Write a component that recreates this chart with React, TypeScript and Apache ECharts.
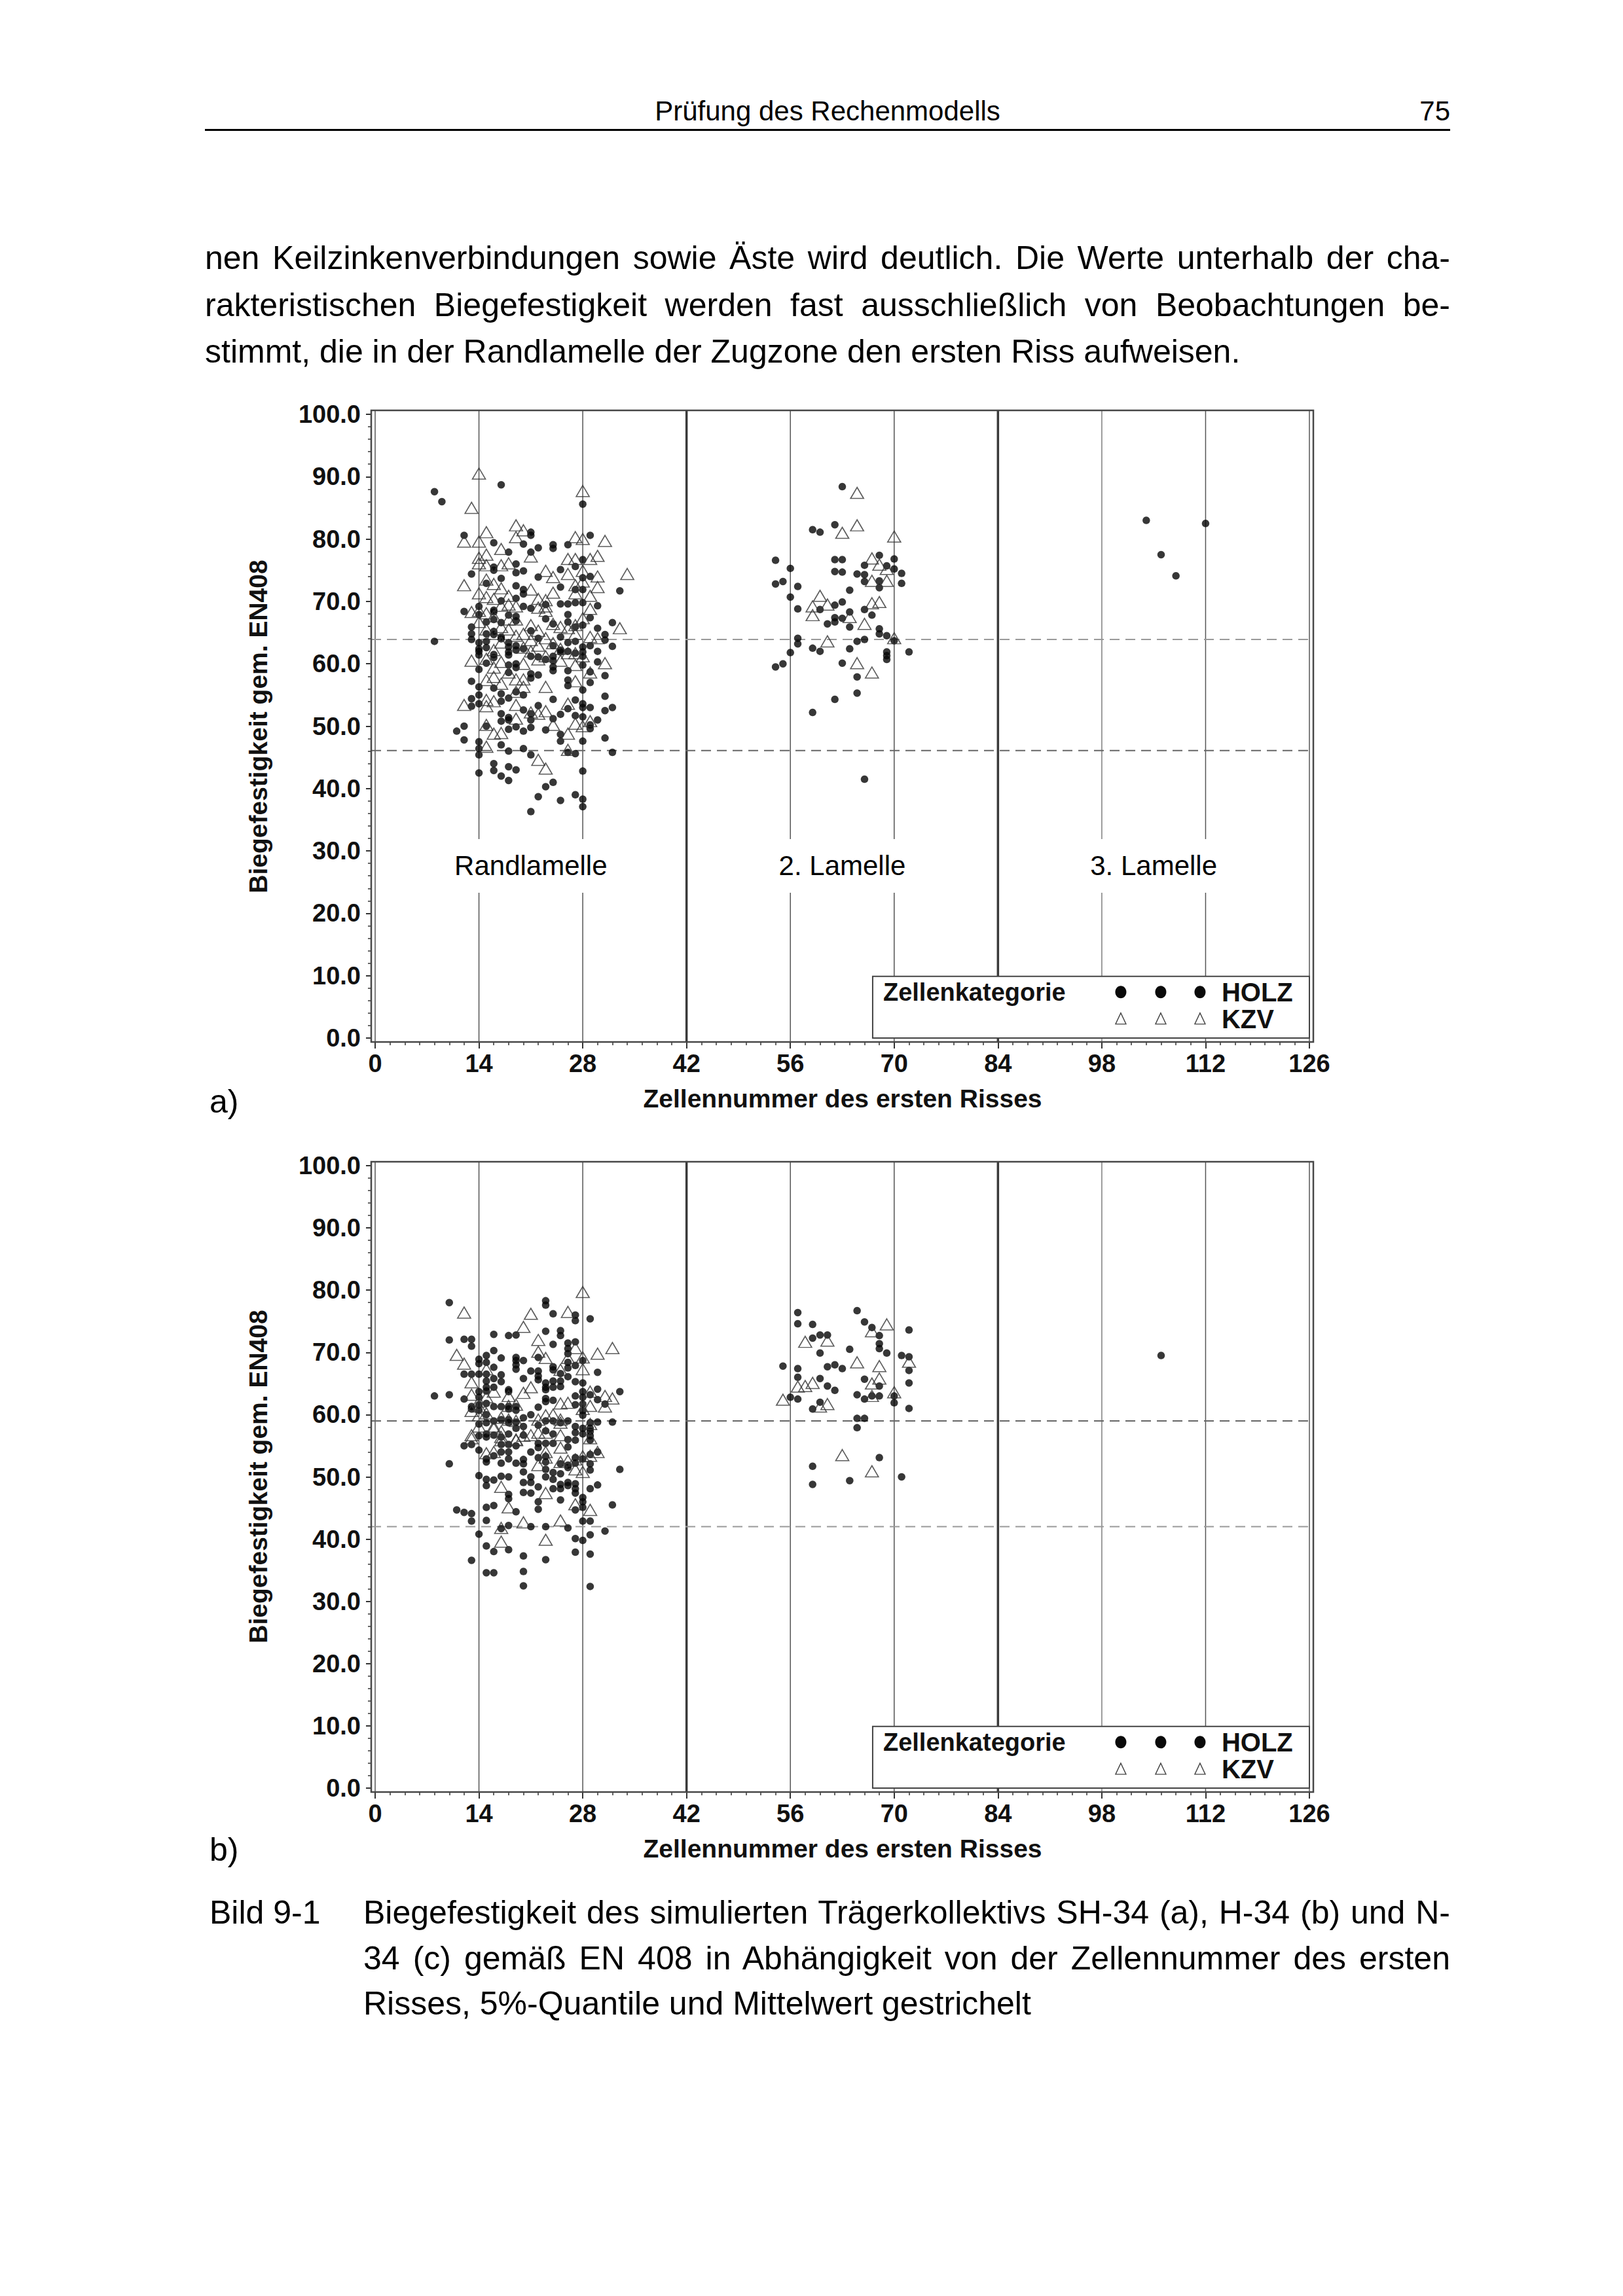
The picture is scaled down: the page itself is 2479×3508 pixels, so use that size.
import React, { useEffect, useRef } from 'react';
import * as echarts from 'echarts';

const W = 2479;
const H = 3508;
const FONT = '"Liberation Sans", Arial, Helvetica, sans-serif';

// ---------- axes / labels ----------
const X_TITLE = 'Zellennummer des ersten Risses';
const Y_TITLE = 'Biegefestigkeit gem. EN408';
const SECTION_LABELS = ['Randlamelle', '2. Lamelle', '3. Lamelle'];
const SECTION_CENTERS = [21, 63, 105];
const SECTION_LABEL_Y = 27.6;
const GRID_X = [0, 14, 28, 42, 56, 70, 84, 98, 112, 126];
const LEGEND_TITLE = 'Zellenkategorie';
const LEGEND_NAMES = ['HOLZ', 'KZV'];
const LEGEND_X0 = 67.1;
const LEGEND_Y1 = 9.9;

// dashed lines: mean and 5% quantile
const REF_A = [63.9, 46.1];
const REF_B = [59.0, 42.0];

// ---------- chart a) data ----------
const HOLZ_A1: number[][] = [
  [8, 87.6], [9, 86.0], [17, 88.7], [28, 85.6], [12, 80.6], [29, 80.6], [16, 79.4], [21, 81.1], [21, 80.6], [20, 79.2],
  [22, 78.6], [24, 79.1], [24, 78.5], [26, 79.1], [18, 77.9], [21, 77.9], [19, 76.0], [16, 75.5], [16, 75.0], [27, 75.6],
  [28, 76.7], [13, 74.4], [19, 74.6], [20, 74.9], [25, 75.1], [17, 73.7], [22, 73.9], [29, 74.0], [28, 73.8], [15, 72.9],
  [19, 72.5], [25, 72.3], [20, 71.9], [20, 71.2], [27, 71.9], [28, 71.9], [33, 71.7], [19, 70.5], [17, 70.1], [14, 69.2],
  [23, 69.5], [25, 69.6], [26, 69.6], [27, 69.8], [28, 69.8], [20, 69.2], [21, 68.9], [30, 69.3], [12, 68.4], [16, 68.6],
  [16, 68.3], [14, 67.9], [18, 67.8], [19, 67.6], [19, 66.9], [26, 67.9], [29, 67.4], [23, 67.2], [15, 66.7], [16, 67.1],
  [17, 66.6], [24, 66.4], [26, 66.7], [28, 66.2], [32, 66.6], [27, 65.9], [30, 65.7], [13, 65.9], [13, 64.8], [21, 65.3],
  [15, 64.8], [16, 65.2], [16, 64.7], [17, 64.3], [17, 64.0], [31, 64.7], [31, 63.8], [22, 64.1], [25, 64.3], [13, 63.9],
  [8, 63.6], [27, 63.6], [14, 63.4], [14, 62.4], [15, 63.6], [15, 62.6], [18, 63.4], [18, 62.7], [19, 62.9], [19, 62.2],
  [24, 62.9], [28, 62.7], [29, 62.9], [32, 62.8], [20, 62.4], [26, 63.4], [25, 62.2], [25, 61.9], [14, 62.0], [14, 61.4],
  [30, 62.0], [26, 62.0], [27, 61.7], [28, 61.9], [28, 61.2], [16, 61.5], [16, 61.0], [18, 61.9], [18, 61.4], [21, 61.2],
  [22, 61.1], [23, 60.7], [24, 61.2], [24, 60.5], [24, 59.5], [24, 58.9], [15, 60.1], [30, 60.3], [28, 59.8], [19, 60.0],
  [19, 59.4], [18, 59.8], [18, 58.6], [14, 59.1], [26, 58.9], [29, 58.7], [21, 58.4], [21, 57.7], [22, 58.2], [31, 58.1],
  [29, 57.0], [13, 57.2], [26, 57.4], [26, 56.5], [14, 56.3], [16, 56.1], [28, 55.8], [19, 55.5],
  [14, 55.0], [13, 54.4], [13, 53.2], [14, 53.6], [17, 55.2], [17, 54.0], [18, 54.5], [20, 55.0], [24, 54.3], [27, 54.2],
  [28, 53.6], [28, 53.0], [29, 53.0], [31, 54.8], [31, 52.5], [32, 53.0], [22, 53.3], [20, 52.6], [25, 51.9], [26, 52.8],
  [27, 51.7], [24, 51.2], [17, 52.0], [17, 50.8], [18, 51.4], [18, 51.0], [21, 52.0], [21, 51.0], [28, 51.5], [30, 51.0],
  [29, 50.2], [29, 49.6], [11, 49.2], [12, 50.0], [15, 50.0], [19, 49.9], [18, 49.5], [20, 49.2], [21, 49.8], [23, 49.4],
  [12, 47.8], [14, 47.5], [14, 46.4], [14, 45.4], [17, 47.0], [25, 48.7], [25, 47.6], [31, 48.1], [28, 47.6], [18, 46.0],
  [20, 46.4], [21, 45.4], [26, 45.8], [27, 45.6], [32, 45.8], [16, 44.0], [16, 42.9], [18, 43.5], [19, 43.0], [14, 42.5],
  [28, 42.8], [17, 42.0], [18, 41.3], [24, 41.0], [23, 40.3], [22, 38.7], [27, 39.0], [25, 38.1], [28, 38.3], [28, 37.1],
  [21, 36.3],
];
const KZV_A1: number[][] = [
  [14, 90.5], [28, 87.7], [13, 85.0], [19, 82.2], [20, 81.4], [15, 81.1], [12, 79.6], [14, 79.6], [27, 80.3], [28, 80.0],
  [31, 79.7], [19, 80.3], [17, 78.4], [21, 77.2], [14, 77.0], [15, 77.5], [26, 76.8], [27, 76.8], [29, 76.8], [30, 77.3],
  [18, 76.1], [14, 76.1], [17, 75.8], [15, 75.8], [23, 74.9], [24, 73.9], [26, 74.4], [28, 74.9], [34, 74.4], [30, 74.0],
  [12, 72.6], [16, 72.8], [15, 73.5], [17, 72.1], [21, 71.9], [27, 72.6], [28, 73.2], [30, 72.3], [14, 71.3], [24, 71.4],
  [27, 71.3], [15, 70.7], [18, 70.9], [29, 70.9], [22, 70.4], [23, 70.2], [16, 70.4], [18, 69.5], [17, 69.3], [19, 69.2],
  [23, 69.2], [29, 68.8], [13, 68.3], [14, 68.5], [15, 68.1], [22, 69.0], [23, 68.5], [16, 67.6], [19, 67.1], [18, 67.1],
  [14, 66.7], [28, 67.3], [21, 66.2], [24, 66.4], [25, 65.9], [26, 65.7], [27, 66.2], [33, 65.7], [17, 65.9], [18, 65.5],
  [15, 65.5], [16, 64.8], [22, 65.3], [20, 64.8], [27, 64.8], [29, 64.3], [30, 64.1], [19, 64.5], [23, 64.1], [21, 63.8],
  [17, 63.4], [24, 63.3], [22, 62.9], [20, 62.6], [25, 62.4], [21, 62.0], [16, 62.2], [26, 61.7], [27, 61.7], [28, 61.2],
  [23, 61.2], [15, 60.8], [13, 60.5], [22, 60.7], [25, 60.5], [17, 60.3], [20, 60.0], [31, 60.1], [27, 59.8], [16, 59.4],
  [29, 58.6], [18, 58.6], [16, 57.9], [20, 57.5], [19, 57.5], [15, 57.4], [27, 57.2], [17, 56.8], [20, 56.3], [23, 56.3],
  [19, 55.5], [15, 54.2], [15, 53.2], [16, 54.0], [12, 53.4], [19, 53.4], [26, 53.6], [21, 52.2], [22, 52.0], [23, 52.4],
  [19, 51.2], [27, 50.4], [28, 50.0], [29, 50.8], [24, 50.2], [15, 50.2], [16, 48.8], [17, 48.9], [26, 48.8], [15, 46.7],
  [26, 46.2], [22, 44.6], [23, 43.2],
];
const HOLZ_A2: number[][] = [
  [63, 88.4], [59, 81.5], [60, 81.1], [62, 82.3], [54, 76.6], [56, 75.3], [62, 76.7], [63, 76.7], [68, 77.4], [70, 76.8],
  [66, 75.8], [69, 75.7], [62, 74.8], [63, 74.7], [70, 75.2], [71, 74.5], [65, 74.4], [66, 74.3], [54, 72.8], [55, 73.2],
  [66, 73.2], [68, 73.3], [68, 72.2], [71, 72.9], [57, 72.4], [64, 71.8], [56, 70.7], [63, 69.9], [62, 69.4], [57, 68.8],
  [60, 68.7], [66, 68.7], [64, 68.3], [67, 67.8], [62, 67.4], [62, 66.7], [63, 67.3], [61, 66.4], [64, 65.9], [68, 65.6],
  [68, 64.8], [69, 64.5], [70, 63.7], [57, 64.1], [57, 63.2], [66, 63.9], [65, 63.6], [72, 61.9], [59, 62.5], [60, 62.0],
  [56, 61.8], [64, 62.4], [69, 61.9], [69, 61.3], [69, 60.7], [54, 59.5], [55, 60.0], [63, 60.1], [65, 57.9], [65, 55.3],
  [62, 54.3], [59, 52.2], [66, 41.5],
];
const KZV_A2: number[][] = [
  [65, 87.4], [65, 82.2], [63, 81.0], [70, 80.4], [67, 76.9], [68, 75.9], [69, 75.2], [67, 73.3], [69, 73.3], [60, 70.9],
  [59, 69.2], [61, 69.5], [67, 69.7], [68, 69.9], [59, 67.8], [64, 67.5], [66, 66.4], [61, 63.6], [70, 64.1], [65, 60.1],
  [67, 58.6],
];
const HOLZ_A3: number[][] = [[104, 83.0], [112, 82.5], [106, 77.5], [108, 74.1]];

// ---------- chart b) data ----------
// cell number -> strengths of HOLZ observations in that cell
const HOLZ_B1_COLUMNS: [number, number[]][] = [
  [8, [63.0]],
  [10, [78.0, 72.0, 63.2, 52.1]],
  [11, [44.7]],
  [12, [72.1, 66.5, 62.5, 55.0, 44.3]],
  [13, [72.1, 71.0, 66.5, 61.3, 60.9, 55.2, 44.1, 42.9, 36.6]],
  [14, [68.9, 68.2, 66.5, 63.7, 62.8, 61.6, 60.7, 58.5, 56.6, 54.3, 50.2, 40.8]],
  [15, [69.5, 68.4, 66.5, 65.4, 64.4, 63.8, 61.8, 60.0, 58.7, 56.9, 56.4, 52.9, 52.4, 49.6, 48.6, 45.1, 43.0, 38.9, 34.6]],
  [16, [72.9, 70.3, 67.6, 65.8, 64.4, 61.3, 59.0, 56.7, 53.4, 49.5, 45.4, 38.0, 34.6]],
  [17, [69.1, 66.4, 65.3, 61.3, 59.2, 56.4, 55.2, 54.0, 52.2, 50.1, 41.7]],
  [18, [72.7, 64.0, 63.7, 61.3, 60.9, 59.2, 58.7, 56.9, 55.2, 54.0, 52.9, 50.0, 47.2, 46.5, 42.2, 38.3]],
  [19, [72.8, 69.2, 68.7, 68.0, 67.3, 61.3, 60.7, 58.8, 57.8, 55.0, 52.2, 44.4]],
  [20, [68.7, 65.8, 59.5, 58.1, 56.7, 52.8, 52.1, 50.8, 49.1, 47.5, 37.3, 34.8, 32.5]],
  [21, [67.0, 60.0, 54.0, 50.0, 49.1, 47.4, 42.0]],
  [22, [69.2, 67.0, 66.2, 65.6, 61.2, 58.3, 55.4, 54.7, 53.1, 48.4, 46.0, 44.8]],
  [23, [78.3, 77.6, 73.4, 65.1, 64.4, 64.0, 62.6, 62.1, 59.0, 57.4, 55.4, 53.3, 52.4, 51.2, 50.0, 42.0, 36.7]],
  [24, [76.2, 71.3, 67.7, 67.2, 65.4, 64.4, 62.3, 59.0, 56.9, 55.4, 50.7, 49.6, 48.1]],
  [25, [73.5, 72.7, 66.6, 65.4, 64.5, 58.7, 52.1, 50.5, 48.8, 48.1, 46.3]],
  [26, [71.5, 70.6, 69.8, 68.4, 67.5, 66.1, 59.0, 56.0, 54.8, 51.9, 51.5, 49.1, 48.6, 41.8]],
  [27, [76.0, 75.1, 71.7, 67.9, 65.3, 63.0, 61.6, 58.1, 57.1, 55.9, 53.1, 52.2, 48.9, 48.1, 47.4, 44.7, 40.1, 37.9]],
  [28, [68.7, 65.1, 63.7, 62.8, 61.7, 60.6, 59.9, 57.8, 56.9, 52.9, 46.7, 46.0, 45.1, 42.9, 39.8]],
  [29, [75.4, 63.2, 58.7, 57.8, 57.3, 56.6, 55.9, 53.6, 52.1, 51.1, 48.1, 42.9, 40.7, 37.6, 32.4]],
  [30, [66.8, 64.1, 62.4, 58.8, 54.0, 48.7]],
  [31, [61.7, 41.3]],
  [32, [58.8, 45.5]],
  [33, [63.7, 51.2]],
];
const KZV_B1: number[][] = [
  [12, 76.4], [11, 69.6], [12, 68.2], [13, 65.2], [13, 63.2], [15, 67.3], [14, 62.1], [14, 61.3], [15, 62.8], [13, 60.6],
  [14, 59.9], [15, 60.2], [13, 56.7], [13, 56.2], [14, 58.1], [16, 58.1], [17, 59.5], [17, 57.3], [16, 63.7], [18, 63.0],
  [19, 61.6], [18, 59.2], [19, 59.0], [19, 56.0], [20, 74.1], [21, 76.2], [20, 63.5], [21, 64.4], [22, 72.0], [22, 70.1],
  [23, 69.1], [25, 67.2], [26, 76.5], [26, 69.1], [27, 70.7], [28, 79.7], [28, 69.2], [28, 67.3], [30, 69.8], [32, 70.7],
  [29, 63.7], [31, 63.0], [31, 61.3], [32, 62.6], [29, 61.4], [26, 61.9], [25, 61.8], [24, 60.0], [23, 59.9], [22, 59.2],
  [28, 60.9], [25, 59.2], [25, 58.7], [23, 57.1], [22, 57.1], [25, 56.7], [29, 58.5], [29, 56.2], [21, 56.7], [16, 57.8],
  [17, 56.4], [20, 56.6], [18, 61.4], [15, 53.8], [16, 54.0], [17, 55.9], [19, 55.9], [23, 54.0], [25, 54.7], [25, 52.4],
  [26, 52.6], [27, 52.8], [28, 53.3], [29, 53.4], [30, 54.0], [22, 51.9], [23, 53.1], [27, 51.2], [28, 50.8], [17, 48.4],
  [23, 47.4], [18, 45.1], [27, 45.6], [29, 44.7], [25, 43.0], [20, 42.7], [17, 41.8], [17, 39.6], [23, 39.9],
];
const HOLZ_B2: number[][] = [
  [55, 67.8], [56, 62.8], [57, 76.4], [57, 74.6], [57, 67.4], [57, 66.0], [57, 62.5], [59, 74.5], [59, 72.3], [59, 60.9],
  [59, 51.7], [59, 48.8], [60, 72.8], [60, 69.9], [60, 65.8], [60, 62.0], [61, 72.8], [61, 67.7], [61, 64.6], [62, 68.0],
  [62, 63.9], [63, 67.4], [64, 70.5], [64, 49.4], [65, 76.7], [65, 63.2], [65, 59.4], [65, 57.9], [66, 74.9], [66, 65.7],
  [66, 62.5], [66, 59.4], [67, 74.0], [67, 63.0], [68, 72.7], [68, 71.4], [68, 70.6], [68, 64.6], [68, 63.0], [68, 53.1],
  [69, 69.9], [70, 63.0], [70, 61.9], [71, 69.5], [71, 50.0], [72, 73.6], [72, 69.3], [72, 67.1], [72, 65.1], [72, 61.0],
];
const KZV_B2: number[][] = [
  [55, 62.4], [57, 64.5], [58, 64.6], [58, 71.7], [59, 65.1], [60, 61.3], [61, 71.9], [61, 61.7], [63, 53.5], [65, 68.4],
  [67, 73.4], [67, 65.0], [67, 63.0], [67, 50.9], [68, 67.8], [68, 65.8], [69, 74.5], [70, 63.6], [72, 68.5],
];
const HOLZ_B3: number[][] = [[106, 69.5]];

const HOLZ_B1: number[][] = HOLZ_B1_COLUMNS.flatMap(([x, ys]) => ys.map((y) => [x, y]));

const PANELS = [
  { holz: [...HOLZ_A1, ...HOLZ_A2, ...HOLZ_A3], kzv: [...KZV_A1, ...KZV_A2], refs: REF_A, labels: true },
  { holz: [...HOLZ_B1, ...HOLZ_B2, ...HOLZ_B3], kzv: [...KZV_B1, ...KZV_B2], refs: REF_B, labels: false },
];

// ---------- layout ----------
const GRIDS = [
  { left: 573, top: 633, width: 1427, height: 953 },
  { left: 573, top: 1781, width: 1427, height: 951 },
];
const FRAME_PAD = 6;

function buildOption() {
  const series: any[] = [];
  PANELS.forEach((p, gi) => {
    // frame
    series.push({
      type: 'custom', xAxisIndex: gi, yAxisIndex: gi, z: 8, silent: true,
      data: [[0, 0]],
      renderItem: (_params: any, api: any) => {
        const a = api.coord([0, 0]);
        const b = api.coord([126, 100]);
        return {
          type: 'rect',
          shape: { x: a[0] - FRAME_PAD, y: b[1] - FRAME_PAD, width: b[0] - a[0] + 2 * FRAME_PAD, height: a[1] - b[1] + 2 * FRAME_PAD },
          style: { fill: 'none', stroke: '#474747', lineWidth: 2.5 },
        };
      },
    });
    // vertical grid lines
    series.push({
      type: 'custom', xAxisIndex: gi, yAxisIndex: gi, z: 1, silent: true,
      data: GRID_X.map((x) => [x, 0]),
      renderItem: (_params: any, api: any) => {
        const x = api.value(0);
        const a = api.coord([x, 0]);
        const b = api.coord([x, 100]);
        const heavy = x === 42 || x === 84;
        const light = x === 98;
        return {
          type: 'line',
          shape: { x1: a[0], y1: a[1] + FRAME_PAD, x2: a[0], y2: b[1] - FRAME_PAD },
          style: { stroke: heavy ? '#3a3a3a' : light ? '#9a9a9a' : '#555', lineWidth: heavy ? 3.5 : light ? 2 : 1.5 },
        };
      },
    });
    // dashed reference lines
    series.push({
      type: 'custom', xAxisIndex: gi, yAxisIndex: gi, z: 1, silent: true,
      data: p.refs.map((y) => [0, y]),
      renderItem: (params: any, api: any) => {
        const y = api.value(1);
        const a = api.coord([0, y]);
        const b = api.coord([126, y]);
        const dark = gi === 0 ? params.dataIndex === 1 : params.dataIndex === 0;
        return {
          type: 'line',
          shape: { x1: a[0] - FRAME_PAD, y1: a[1], x2: b[0] + FRAME_PAD, y2: b[1] },
          style: { stroke: dark ? '#666' : '#9a9a9a', lineWidth: 2, lineDash: [15, 9] },
        };
      },
    });
    series.push({
      name: 'HOLZ', type: 'scatter', xAxisIndex: gi, yAxisIndex: gi, z: 3,
      symbol: 'circle', symbolSize: 11.5, data: p.holz,
      itemStyle: { color: '#050505' },
    });
    series.push({
      name: 'KZV', type: 'scatter', xAxisIndex: gi, yAxisIndex: gi, z: 4,
      symbol: 'triangle', symbolSize: [20, 17], data: p.kzv,
      itemStyle: { color: 'rgba(255,255,255,0)', borderColor: '#333', borderWidth: 1.6 },
    });
    if (p.labels) {
      series.push({
        type: 'custom', xAxisIndex: gi, yAxisIndex: gi, z: 5, silent: true,
        data: SECTION_CENTERS.map((c) => [c, SECTION_LABEL_Y]),
        renderItem: (params: any, api: any) => {
          const pt = api.coord([api.value(0), api.value(1)]);
          const w = params.dataIndex === 0 ? 270 : 230;
          return {
            type: 'group',
            children: [
              { type: 'rect', shape: { x: pt[0] - w / 2, y: pt[1] - 41, width: w, height: 82 }, style: { fill: '#fff' } },
              {
                type: 'text',
                style: {
                  text: SECTION_LABELS[params.dataIndex], x: pt[0], y: pt[1],
                  textAlign: 'center', textVerticalAlign: 'middle',
                  font: `42px ${FONT}`, fill: '#000',
                },
              },
            ],
          };
        },
      });
    }
    // legend box
    series.push({
      type: 'custom', xAxisIndex: gi, yAxisIndex: gi, z: 6, silent: true,
      data: [[LEGEND_X0, LEGEND_Y1]],
      renderItem: (_params: any, api: any) => {
        const tl = api.coord([LEGEND_X0, LEGEND_Y1]);
        const br = api.coord([126, 0]);
        const L = tl[0];
        const T = tl[1];
        const y1 = T + 24;
        const y2 = T + 65;
        const sx = [L + 379, L + 440, L + 500];
        const children: any[] = [
          { type: 'rect', shape: { x: L, y: T, width: br[0] - L, height: br[1] - T }, style: { fill: '#fff', stroke: '#444', lineWidth: 2 } },
          { type: 'text', style: { text: LEGEND_TITLE, x: L + 16, y: y1, textAlign: 'left', textVerticalAlign: 'middle', font: `bold 38px ${FONT}`, fill: '#111' } },
          { type: 'text', style: { text: LEGEND_NAMES[0], x: L + 533, y: y1, textAlign: 'left', textVerticalAlign: 'middle', font: `bold 40px ${FONT}`, fill: '#111' } },
          { type: 'text', style: { text: LEGEND_NAMES[1], x: L + 533, y: y2, textAlign: 'left', textVerticalAlign: 'middle', font: `bold 40px ${FONT}`, fill: '#111' } },
        ];
        sx.forEach((x) => {
          children.push({ type: 'ellipse', shape: { cx: x, cy: y1, rx: 8.5, ry: 9.5 }, style: { fill: '#0a0a0a' } });
          children.push({ type: 'polygon', shape: { points: [[x, y2 - 9], [x - 8, y2 + 8], [x + 8, y2 + 8]] }, style: { fill: 'none', stroke: '#444', lineWidth: 1.4 } });
        });
        return { type: 'group', children };
      },
    });
  });

  const axisLabelStyle = { fontSize: 38, fontWeight: 'bold', fontFamily: FONT, color: '#111' };

  return {
    animation: false,
    backgroundColor: 'transparent',
    grid: GRIDS,
    xAxis: GRIDS.map((_, i) => ({
      gridIndex: i, type: 'value', min: 0, max: 126, interval: 14, offset: FRAME_PAD,
      axisLine: { show: true, onZero: false, lineStyle: { color: '#333', width: 2 } },
      axisTick: { show: true, length: 10, lineStyle: { color: '#333', width: 2 } },
      minorTick: { show: true, splitNumber: 7, length: 5, lineStyle: { color: '#333', width: 1.5 } },
      axisLabel: { ...axisLabelStyle, margin: 14 },
      splitLine: { show: false },
    })),
    yAxis: GRIDS.map((_, i) => ({
      gridIndex: i, type: 'value', min: 0, max: 100, interval: 10, offset: FRAME_PAD,
      axisLine: { show: true, onZero: false, lineStyle: { color: '#333', width: 2 } },
      axisTick: { show: true, length: 8, lineStyle: { color: '#333', width: 2 } },
      minorTick: { show: true, splitNumber: 5, length: 5, lineStyle: { color: '#333', width: 1.5 } },
      axisLabel: { ...axisLabelStyle, margin: 16, formatter: (v: number) => v.toFixed(1) },
      splitLine: { show: false },
    })),
    graphic: [
      { type: 'text', x: 394, y: 1110, rotation: Math.PI / 2, z: 10, style: { text: Y_TITLE, font: `bold 39px ${FONT}`, textAlign: 'center', textVerticalAlign: 'middle', fill: '#111' } },
      { type: 'text', x: 394, y: 2256, rotation: Math.PI / 2, z: 10, style: { text: Y_TITLE, font: `bold 39px ${FONT}`, textAlign: 'center', textVerticalAlign: 'middle', fill: '#111' } },
      { type: 'text', x: 1287, y: 1678, z: 10, style: { text: X_TITLE, font: `bold 39px ${FONT}`, textAlign: 'center', textVerticalAlign: 'middle', fill: '#111' } },
      { type: 'text', x: 1287, y: 2824, z: 10, style: { text: X_TITLE, font: `bold 39px ${FONT}`, textAlign: 'center', textVerticalAlign: 'middle', fill: '#111' } },
    ],
    series,
  };
}

// ---------- page text ----------
const HEADER = 'Prüfung des Rechenmodells';
const PAGE_NO = '75';
const PARAGRAPH = [
  'nen Keilzinkenverbindungen sowie Äste wird deutlich. Die Werte unterhalb der cha-',
  'rakteristischen Biegefestigkeit werden fast ausschließlich von Beobachtungen be-',
  'stimmt, die in der Randlamelle der Zugzone den ersten Riss aufweisen.',
];
const CAPTION_LABEL = 'Bild 9-1';
const CAPTION = [
  'Biegefestigkeit des simulierten Trägerkollektivs SH-34 (a), H-34 (b) und N-',
  '34 (c) gemäß EN 408 in Abhängigkeit von der Zellennummer des ersten',
  'Risses, 5%-Quantile und Mittelwert gestrichelt',
];

function TextLine(props: { text: string; cy: number; left: number; width?: number; size: number; align?: string; justify?: boolean }) {
  const h = Math.round(props.size * 1.2);
  const style: any = {
    position: 'absolute', left: props.left, top: props.cy - h / 2, height: h, lineHeight: h + 'px',
    fontSize: props.size, fontFamily: FONT, color: '#000', whiteSpace: 'nowrap',
  };
  if (props.width !== undefined) style.width = props.width;
  if (props.justify) {
    style.textAlign = 'justify';
    style.textAlignLast = 'justify';
    style.whiteSpace = 'normal';
  } else if (props.align) {
    style.textAlign = props.align;
  }
  return <div style={style}>{props.text}</div>;
}

export default function App() {
  const ref = useRef<HTMLDivElement>(null);
  useEffect(() => {
    document.body.style.margin = '0';
    const chart = echarts.init(ref.current as HTMLDivElement, null, { renderer: 'svg', width: W, height: H });
    chart.setOption(buildOption() as any);
    return () => chart.dispose();
  }, []);
  return (
    <div style={{ position: 'absolute', left: 0, top: 0, width: W, height: H, background: '#fff', overflow: 'hidden' }}>
      <div ref={ref} style={{ position: 'absolute', left: 0, top: 0, width: W, height: H }} />
      <TextLine text={HEADER} cy={170} left={313} width={1902} size={42} align="center" />
      <TextLine text={PAGE_NO} cy={170} left={313} width={1902} size={42} align="right" />
      <div style={{ position: 'absolute', left: 313, top: 197, width: 1902, height: 3, background: '#000' }} />
      {PARAGRAPH.map((t, i) => (
        <TextLine key={i} text={t} cy={394 + i * 71.5} left={313} width={1902} size={50} justify={i < 2} />
      ))}
      <TextLine text="a)" cy={1683} left={320} size={50} />
      <TextLine text="b)" cy={2826} left={320} size={50} />
      <TextLine text={CAPTION_LABEL} cy={2922} left={320} size={50} />
      {CAPTION.map((t, i) => (
        <TextLine key={i} text={t} cy={2922 + i * 69.5} left={555} width={1660} size={50} justify={i < 2} />
      ))}
    </div>
  );
}
